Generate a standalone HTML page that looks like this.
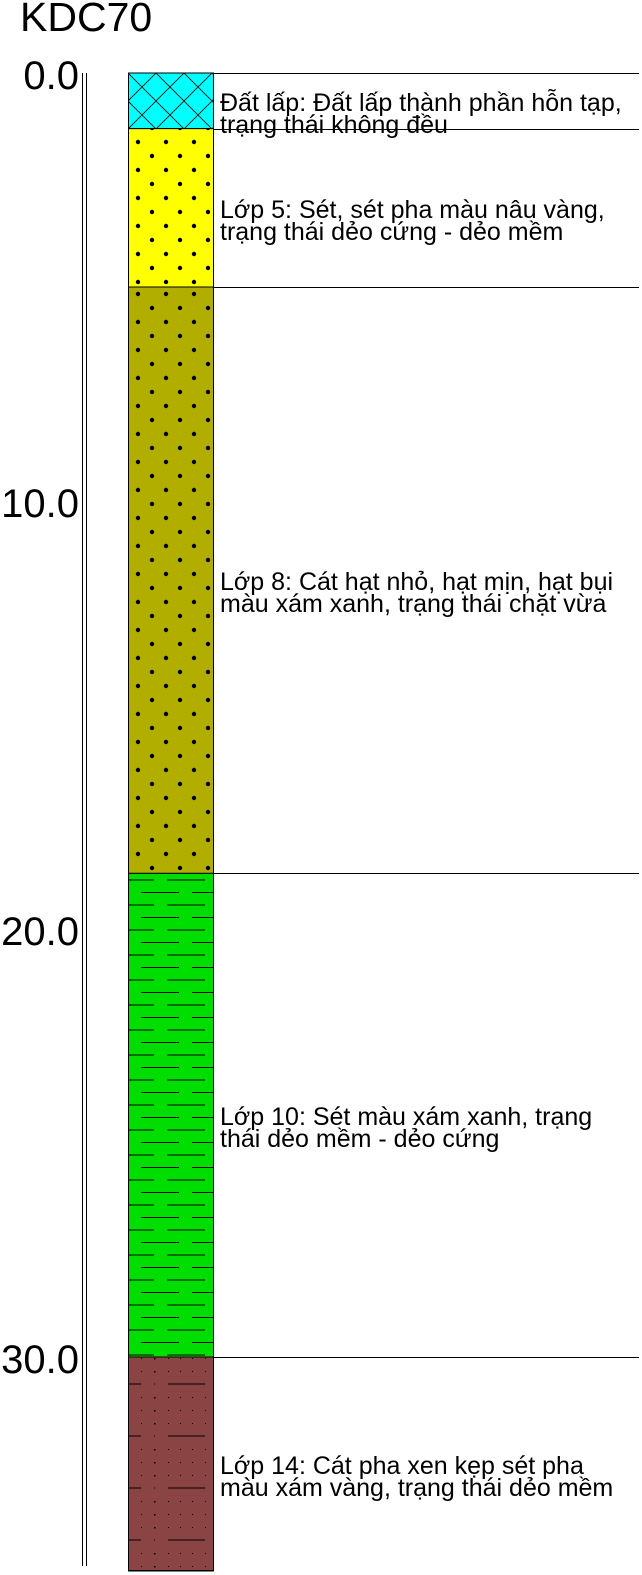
<!DOCTYPE html>
<html><head><meta charset="utf-8"><style>
body{margin:0;background:#fff;width:642px;height:1575px;overflow:hidden}
svg{display:block}
text{font-family:"Liberation Sans",sans-serif}
</style></head><body>
<svg id="c" width="642" height="1575">
<defs>
<pattern id="p0" width="28" height="28" patternUnits="userSpaceOnUse" x="128" y="73">
<rect width="28" height="28" fill="#00ffff"/><path d="M0 0L28 28M28 0L0 28" stroke="#000" stroke-width="0.8"/></pattern>
<pattern id="p1" width="28" height="28" patternUnits="userSpaceOnUse" x="124" y="128">
<rect width="28" height="28" fill="#ffff00"/><circle cx="14" cy="14" r="2.2"/><circle cx="28" cy="0" r="2.2"/><circle cx="0" cy="0" r="2.2"/><circle cx="0" cy="28" r="2.2"/><circle cx="28" cy="28" r="2.2"/></pattern>
<pattern id="p2" width="28" height="28" patternUnits="userSpaceOnUse" x="124" y="286">
<rect width="28" height="28" fill="#b2ae00"/><circle cx="14" cy="8" r="2.2"/><circle cx="0" cy="22" r="2.2"/><circle cx="28" cy="22" r="2.2"/></pattern>
<pattern id="p3" width="51" height="25" patternUnits="userSpaceOnUse" x="116" y="874">
<rect width="51" height="25" fill="#00dd00"/><path d="M0 6H38M25 18.5H51M0 18.5H12" stroke="#000" stroke-width="1"/></pattern>
<pattern id="p4" width="64" height="52" patternUnits="userSpaceOnUse" x="128" y="1353">
<rect width="64" height="52" fill="#8b4444"/>
<g fill="#000"><rect x="0" y="5" width="1" height="1"/><rect x="13" y="5" width="1" height="1"/><rect x="26" y="5" width="1.5" height="1.5"/><rect x="40" y="5" width="1" height="1"/><rect x="52" y="5" width="1" height="1"/>
<rect x="0" y="18" width="1" height="1"/><rect x="13" y="18" width="1" height="1"/><rect x="26" y="18" width="1.5" height="1.5"/><rect x="40" y="18" width="1" height="1"/><rect x="52" y="18" width="1" height="1"/>
<rect x="0" y="44" width="1" height="1"/><rect x="13" y="44" width="1" height="1"/><rect x="26" y="44" width="1.5" height="1.5"/><rect x="40" y="44" width="1" height="1"/><rect x="52" y="44" width="1" height="1"/></g>
<path d="M0 31H13M40 31H64M26 31h1" stroke="#000" stroke-width="0.9"/></pattern>
</defs>
<text x="20" y="31" font-size="41">KDC70</text>
<line x1="82.5" y1="73" x2="82.5" y2="1566" stroke="#000"/>
<line x1="86.5" y1="73" x2="86.5" y2="1566" stroke="#000"/>
<g id="ticks"></g><g id="layers"></g>
</svg>
<script>
const depthTicks=[0,10,20,30];
const layerTops=[0,1.3,5.0,18.7,30.0];
const layerBottoms=[1.3,5.0,18.7,30.0,35.0];
const layerLabels1=["Đất lấp: Đất lấp thành phần hỗn tạp,","Lớp 5: Sét, sét pha màu nâu vàng,","Lớp 8: Cát hạt nhỏ, hạt mịn, hạt bụi","Lớp 10: Sét màu xám xanh, trạng","Lớp 14: Cát pha xen kẹp sét pha"];
const layerLabels2=["trạng thái không đều","trạng thái dẻo cứng - dẻo mềm","màu xám xanh, trạng thái chặt vừa","thái dẻo mềm - dẻo cứng","màu xám vàng, trạng thái dẻo mềm"];
const ns="http://www.w3.org/2000/svg";
const y=d=>73+d*42.8;
const T=document.getElementById('ticks'),L=document.getElementById('layers');
depthTicks.forEach(d=>{const t=document.createElementNS(ns,'text');
t.setAttribute('x',79);t.setAttribute('y',y(d)+16);t.setAttribute('text-anchor','end');t.setAttribute('font-size','40');
t.textContent=d.toFixed(1);


T.appendChild(t);});
layerTops.forEach((top,i)=>{const y0=y(top),y1=y(layerBottoms[i]);
const r=document.createElementNS(ns,'rect');
r.setAttribute('x',128.5);r.setAttribute('y',y0);r.setAttribute('width',85);r.setAttribute('height',y1-y0);
r.setAttribute('fill','url(#p'+i+')');r.setAttribute('stroke','#000');r.setAttribute('stroke-width','1');


L.appendChild(r);
const mid=(y0+y1)/2;
[layerLabels1[i],layerLabels2[i]].forEach((s,k)=>{const t=document.createElementNS(ns,'text');
t.setAttribute('x',220);t.setAttribute('y',mid+(k?32:10));t.setAttribute('font-size','25');
t.textContent=s;


L.appendChild(t);});
const ln=document.createElementNS(ns,'path');
ln.setAttribute('d','M213 '+(Math.round(y0)+0.5)+'H639'+(i==layerTops.length-1?'M128 '+(Math.round(y1)-0.5)+'H213':''));
ln.setAttribute('stroke','#000');


L.appendChild(ln);
});
</script>
</body></html>
